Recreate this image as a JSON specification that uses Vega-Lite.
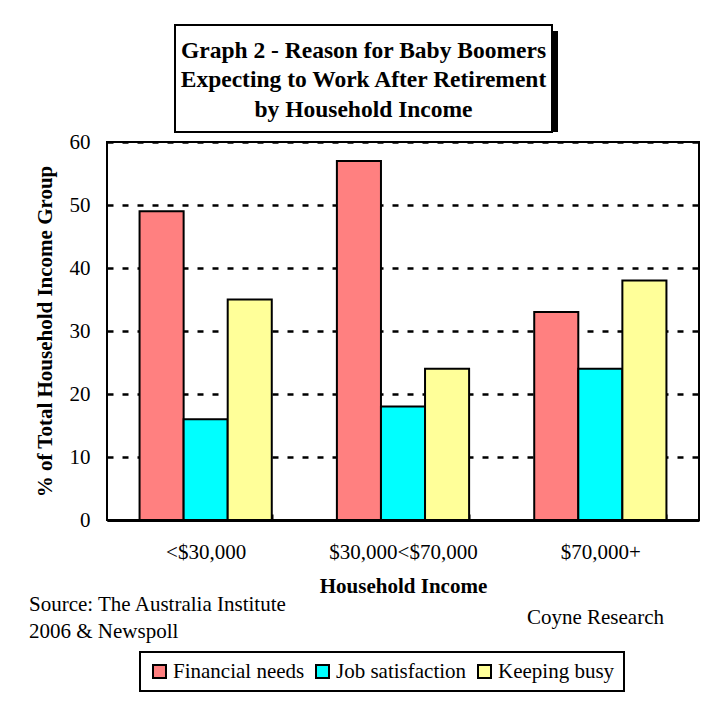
{
  "$schema": "https://vega.github.io/schema/vega-lite/v6.json",
  "padding": {"left": 28, "top": 24, "right": 0, "bottom": 0},
  "background": "white",
  "config": {
    "font": "Liberation Serif",
    "axis": {"labelFont": "Liberation Serif", "titleFont": "Liberation Serif", "labelColor": "black", "titleColor": "black"},
    "legend": {"labelFont": "Liberation Serif", "labelColor": "black"}
  },
  "title": {"text": "Coyne Research", "orient": "bottom", "anchor": "end", "frame": "bounds", "offset": -85, "dx": -36, "fontSize": 21, "fontWeight": "normal", "font": "Liberation Serif", "color": "black"},
  "spacing": -3,
  "center": true,
  "bounds": "full",
  "vconcat": [
    {
      "width": 377,
      "height": 107,
      "view": {"stroke": null},
      "data": {"values": [{"title": ["Graph 2 - Reason for Baby Boomers", "Expecting to Work After Retirement", "by Household Income"]}]},
      "encoding": {
        "x": {"datum": 0, "type": "quantitative", "scale": {"domain": [0, 1], "nice": false, "zero": false}, "axis": null},
        "x2": {"datum": 1}
      },
      "layer": [
        {"mark": {"type": "rect", "color": "black", "xOffset": -34, "x2Offset": -34, "yOffset": 6}},
        {"mark": {"type": "rect", "fill": "white", "stroke": "black", "strokeWidth": 2, "xOffset": -40, "x2Offset": -40}},
        {"mark": {"type": "text", "font": "Liberation Serif", "fontSize": 23.5, "fontWeight": "bold", "lineHeight": 29.5, "color": "black", "baseline": "middle", "align": "center", "dy": -28, "xOffset": -40},
         "encoding": {"x": {"datum": 0.5, "type": "quantitative"}, "x2": null, "text": {"field": "title", "type": "nominal"}}}
      ]
    },
    {
      "width": 592,
      "height": 378,
      "view": {"stroke": "black", "strokeWidth": 2},
      "title": {"text": ["Source: The Australia Institute", "2006 & Newspoll"], "orient": "bottom", "anchor": "start", "frame": "bounds", "offset": -2, "dx": -5, "fontSize": 21, "fontWeight": "normal", "lineHeight": 27, "font": "Liberation Serif", "color": "black"},
      "data": {"values": [
        {"income": "<$30,000", "reason": "Financial needs", "pct": 49},
        {"income": "<$30,000", "reason": "Job satisfaction", "pct": 16},
        {"income": "<$30,000", "reason": "Keeping busy", "pct": 35},
        {"income": "$30,000<$70,000", "reason": "Financial needs", "pct": 57},
        {"income": "$30,000<$70,000", "reason": "Job satisfaction", "pct": 18},
        {"income": "$30,000<$70,000", "reason": "Keeping busy", "pct": 24},
        {"income": "$70,000+", "reason": "Financial needs", "pct": 33},
        {"income": "$70,000+", "reason": "Job satisfaction", "pct": 24},
        {"income": "$70,000+", "reason": "Keeping busy", "pct": 38}
      ]},
      "mark": {"type": "bar", "stroke": "black", "strokeWidth": 2},
      "encoding": {
        "x": {
          "field": "income", "type": "nominal",
          "sort": ["<$30,000", "$30,000<$70,000", "$70,000+"],
          "scale": {"paddingInner": 0.33, "paddingOuter": 0.165},
          "axis": {"title": "Household Income", "titleFontSize": 21, "titleFontWeight": "bold", "titlePadding": 13, "labelFontSize": 21, "labelAngle": 0, "labelPadding": 27, "tickBand": "extent", "tickSize": -6, "tickWidth": 2, "tickColor": "black", "domainColor": "black", "domainWidth": 3}
        },
        "xOffset": {
          "field": "reason", "type": "nominal",
          "sort": ["Financial needs", "Job satisfaction", "Keeping busy"],
          "scale": {"paddingInner": 0, "paddingOuter": 0}
        },
        "y": {
          "field": "pct", "type": "quantitative",
          "scale": {"domain": [0, 60], "nice": false},
          "axis": {"title": "% of Total Household Income Group", "titleFontSize": 21, "titleFontWeight": "bold", "titlePadding": 14, "values": [0, 10, 20, 30, 40, 50, 60], "labelFontSize": 21, "labelPadding": 17, "ticks": false, "domain": false, "grid": true, "gridColor": "black", "gridDash": [6, 9], "gridWidth": 2.5, "gridOpacity": 1}
        },
        "color": {
          "field": "reason", "type": "nominal",
          "sort": ["Financial needs", "Job satisfaction", "Keeping busy"],
          "scale": {"domain": ["Financial needs", "Job satisfaction", "Keeping busy"], "range": ["#FF8080", "#00FFFF", "#FFFF99"]},
          "legend": {
            "title": null, "orient": "none", "legendX": 33, "legendY": 627, "direction": "horizontal",
            "symbolType": "square", "symbolSize": 169, "symbolStrokeWidth": 2, "symbolStrokeColor": "black", "symbolOpacity": 1,
            "labelFontSize": 21, "labelFont": "Liberation Serif", "labelOffset": 3, "columnPadding": 7, "padding": 9,
            "strokeColor": "black",
            "encode": {"legend": {"update": {"strokeWidth": {"value": 2}}}}
          }
        }
      }
    }
  ]
}
